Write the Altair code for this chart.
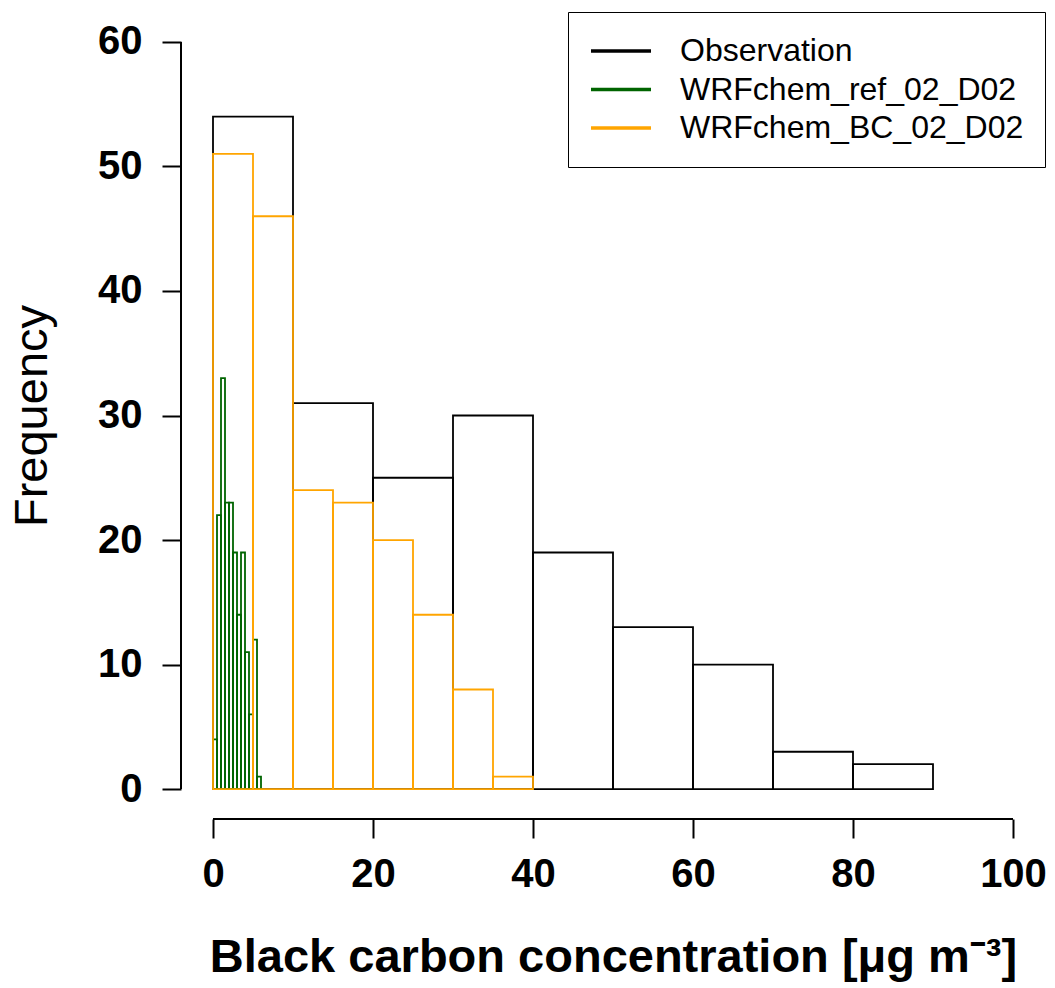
import altair as alt
import pandas as pd

# Histogram data (bin breaks and counts)
obs_breaks = [0, 10, 20, 30, 40, 50, 60, 70, 80, 90]
obs_counts = [54, 31, 25, 30, 19, 13, 10, 3, 2]

ref_breaks = [0, 0.5, 1, 1.5, 2, 2.5, 3, 3.5, 4, 4.5, 5, 5.5, 6]
ref_counts = [4, 22, 33, 23, 23, 19, 14, 19, 11, 6, 12, 1]

bc_breaks = [0, 5, 10, 15, 20, 25, 30, 35, 40]
bc_counts = [51, 46, 24, 23, 20, 14, 8, 1]

series_names = ["Observation", "WRFchem_ref_02_D02", "WRFchem_BC_02_D02"]
series_colors = ["#000000", "#006400", "#FFA500"]

x_ticks = [0, 20, 40, 60, 80, 100]
y_ticks = [0, 10, 20, 30, 40, 50, 60]
x_dom = [-4, 104]
y_dom = [-2.4, 62.4]

rows = []
for name, br, ct in [(series_names[0], obs_breaks, obs_counts),
                     (series_names[1], ref_breaks, ref_counts),
                     (series_names[2], bc_breaks, bc_counts)]:
    for i, c in enumerate(ct):
        rows.append({"series": name, "x0": br[i], "x1": br[i + 1], "y0": 0, "y1": c,
                     "order": len(rows)})
df = pd.DataFrame(rows)

xs = alt.Scale(domain=x_dom, nice=False, zero=False)
ys = alt.Scale(domain=y_dom, nice=False, zero=False)

bars = alt.Chart(df).mark_rect(filled=False, strokeWidth=1.8).encode(
    x=alt.X("x0:Q", scale=xs,
            axis=alt.Axis(values=x_ticks, title="Black carbon concentration [μg m⁻³]",
                          domain=False, grid=False, tickSize=19, tickWidth=2,
                          tickColor="black", labelFontSize=40, labelFontWeight="bold",
                          labelPadding=16, labelColor="black", titleFontSize=47,
                          titleFontWeight="bold", titlePadding=40, titleColor="black",
                          labelFlush=False)),
    x2="x1:Q",
    y=alt.Y("y0:Q", scale=ys,
            axis=alt.Axis(values=y_ticks, title="Frequency", domain=False, grid=False,
                          tickSize=19, tickWidth=2, tickColor="black",
                          labelFontSize=40, labelFontWeight="bold", labelPadding=20,
                          labelColor="black", titleFontSize=47, titleFontWeight="normal",
                          titlePadding=41, titleColor="black", labelFlush=False)),
    y2="y1:Q",
    stroke=alt.Stroke("series:N",
                      scale=alt.Scale(domain=series_names, range=series_colors),
                      legend=alt.Legend(title=None, orient="top-right", offset=0,
                                        strokeColor="black", fillColor="white",
                                        padding=21, symbolType="stroke",
                                        symbolSize=3600, symbolStrokeWidth=3.5,
                                        labelFontSize=32, labelOffset=27,
                                        labelLimit=600, clipHeight=36,
                                        rowPadding=2.5, labelColor="black")),
    order="order:Q",
)

xaxis_df = pd.DataFrame({"a": [x_ticks[0]], "b": [x_ticks[-1]], "y": [y_dom[0]]})
yaxis_df = pd.DataFrame({"a": [y_ticks[0]], "b": [y_ticks[-1]], "x": [x_dom[0]]})

xline = alt.Chart(xaxis_df).mark_rule(color="black", strokeWidth=2).encode(
    x=alt.X("a:Q", scale=xs), x2="b:Q", y=alt.Y("y:Q", scale=ys))
yline = alt.Chart(yaxis_df).mark_rule(color="black", strokeWidth=2).encode(
    y=alt.Y("a:Q", scale=ys), y2="b:Q", x=alt.X("x:Q", scale=xs))

chart = alt.layer(bars, xline, yline).properties(
    width=864, height=807,
    autosize=alt.AutoSizeParams(type="none"),
    padding={"left": 173, "top": 4, "right": 2, "bottom": 168},
).configure(font="Liberation Sans").configure_view(stroke=None)

chart.save("out.html", embed_options={"renderer": "svg", "actions": False})
